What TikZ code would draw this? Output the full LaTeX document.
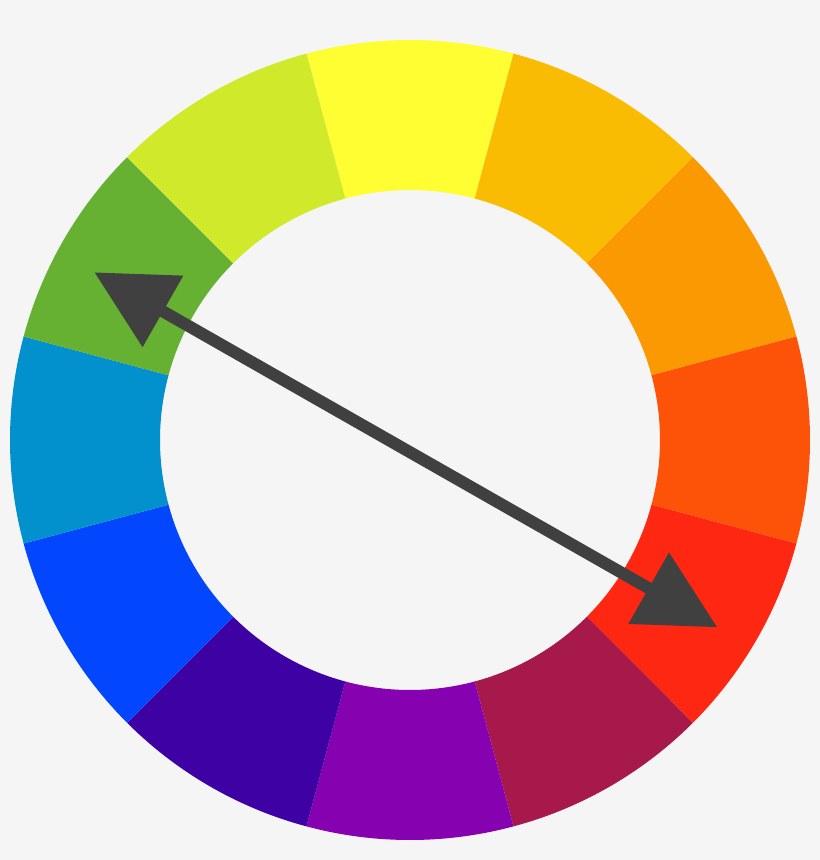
\documentclass[tikz,border=0pt]{standalone}
\usetikzlibrary{arrows.meta}
\definecolor{bg}{HTML}{F5F5F5}
\definecolor{arrowgray}{HTML}{404040}
\definecolor{cY}{HTML}{FEFE33}
\definecolor{cYO}{HTML}{FABC02}
\definecolor{cO}{HTML}{FB9902}
\definecolor{cRO}{HTML}{FD5308}
\definecolor{cR}{HTML}{FE2712}
\definecolor{cRV}{HTML}{A7194B}
\definecolor{cV}{HTML}{8601AF}
\definecolor{cBV}{HTML}{3D01A4}
\definecolor{cB}{HTML}{0247FE}
\definecolor{cBG}{HTML}{0391CE}
\definecolor{cG}{HTML}{66B032}
\definecolor{cYG}{HTML}{D0EA2B}
\begin{document}
\begin{tikzpicture}[wedge/.style={fill=#1},
  both/.style={arrowgray,line width=1.2mm,
    {Triangle[length=7.9mm,width=7.9mm]}-{Triangle[length=7.9mm,width=7.9mm]}}]
  \fill[bg] (-4.1,-4.2) rectangle (4.1,4.4);
  \useasboundingbox (-4.1,-4.2) rectangle (4.1,4.4);

  % twelve hues, starting at the top and going clockwise
  \foreach \a/\c in {90/cY,60/cYO,30/cO,0/cRO,-30/cR,-60/cRV,-90/cV,-120/cBV,-150/cB,180/cBG,150/cG,120/cYG}
    \fill[wedge=\c] (\a-15:2.5) arc[start angle=\a-15,end angle=\a+15,radius=2.5]
      -- (\a+15:4) arc[start angle=\a+15,end angle=\a-15,radius=4] -- cycle;

  \coordinate (green) at (-3.157,1.677);
  \coordinate (red) at (3.073,-1.873);
  \draw[both] (green) -- (red);
\end{tikzpicture}
\end{document}
